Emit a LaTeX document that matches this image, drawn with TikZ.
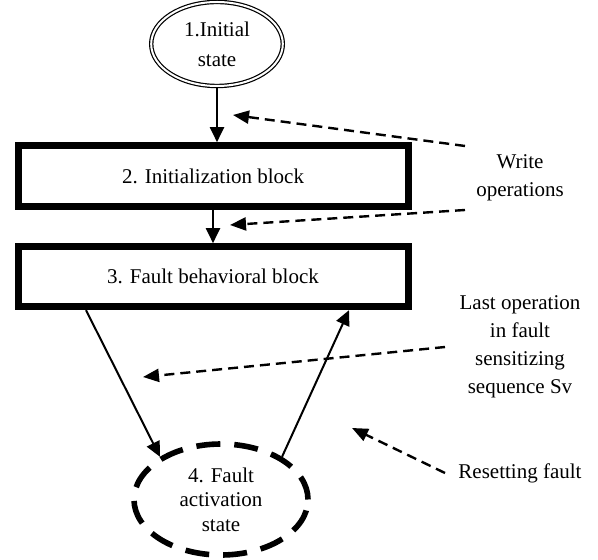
\documentclass[tikz,border=0pt]{standalone}
\usepackage{fontspec}
\setmainfont{Liberation Serif}
\usetikzlibrary{positioning,shapes,arrows.meta}

\begin{document}
\begin{tikzpicture}[
    x=0.5pt, y=-0.5pt,
    font=\fontsize{10.5}{14}\selectfont,
    startstate/.style={ellipse, draw, double, line width=0.6pt, double distance=1pt, outer sep=1.1pt, minimum width=65.8pt, minimum height=42pt, inner sep=0pt, align=center, font=\fontsize{10.5}{15}\selectfont},
    block/.style={rectangle, draw, line width=3.5pt, outer sep=1.75pt, minimum width=195pt, minimum height=30.5pt, align=center},
    faultstate/.style={ellipse, draw, line width=2.8pt, dash pattern=on 12pt off 7pt, outer sep=1.4pt, minimum width=87pt, minimum height=55.5pt, inner sep=0pt, align=center, font=\fontsize{10.5}{12.25}\selectfont},
    note/.style={align=center, inner sep=0pt},
    arrow/.style={-{Triangle[length=7.5pt, width=7pt]}, line width=1pt},
    hint/.style={-{Triangle[length=8pt, width=6.5pt]}, line width=1.2pt, dash pattern=on 5pt off 3pt}
]
    \useasboundingbox (0,0) rectangle (598,560);

    % states and blocks
    \node [startstate] (init) at (217,44) {1.Initial\\state};
    \node [block, below=27pt of init, xshift=-2pt] (ib) {2. Initialization block};
    \node [block, below=16.5pt of ib, minimum height=30pt] (fb) {3. Fault behavioral block};
    \node [faultstate, below=65.5pt of fb, xshift=4pt] (act) {4. Fault\\activation\\state};

    % side notes
    \node [note] (wr) at (520,178) {Write\\operations};
    \node [note] (last) at (520,347) {Last operation\\in fault\\sensitizing\\sequence Sv};
    \node [note] (rst) at (520,473) {Resetting fault};

    % ends of the dashed pointers
    \coordinate (wrA) at (465,146);
    \coordinate (wrAtip) at (233,115);
    \coordinate (wrB) at (465,210);
    \coordinate (wrBtip) at (230,225);
    \coordinate (lastA) at (445,347);
    \coordinate (lastAtip) at (143,377);
    \coordinate (rstA) at (445,473);
    \coordinate (rstAtip) at (352,428);

    % transitions
    \draw [arrow] (init) -- (init |- ib.north);
    \draw [arrow] (ib.south) -- (fb.north);
    \draw [arrow] ([xshift=-63.5pt]fb.south) -- (act.145);
    \draw [arrow] (act.35) -- ([xshift=68pt]fb.south);

    % pointers from the notes
    \draw [hint] (wrA) -- (wrAtip);
    \draw [hint] (wrB) -- (wrBtip);
    \draw [hint] (lastA) -- (lastAtip);
    \draw [hint] (rstA) -- (rstAtip);
\end{tikzpicture}
\end{document}
